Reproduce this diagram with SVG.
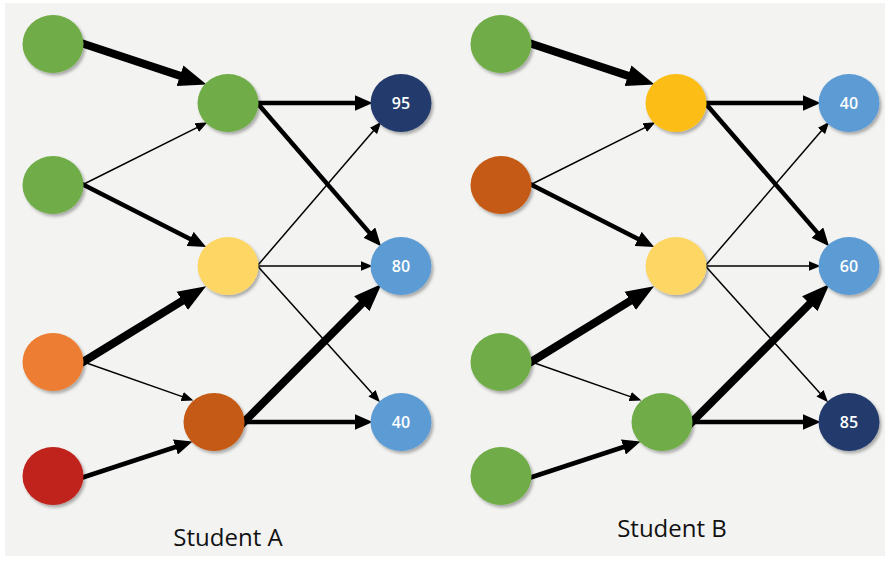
<svg xmlns="http://www.w3.org/2000/svg" width="885" height="561" viewBox="0 0 885 561">
<style>
.c{stroke:#000;fill:none;stroke-linecap:butt}
.thin{stroke-width:1.5;marker-end:url(#aThin)}
.med{stroke-width:4.5;marker-end:url(#aMed)}
.thick{stroke-width:8;marker-end:url(#aThick)}
.n{filter:url(#sh)}
.green{fill:#6fac46}
.yel{fill:#fdd664}
.gold{fill:#fbbd19}
.orange{fill:#ed7d31}
.dorange{fill:#c55a12}
.red{fill:#c0221a}
.navy{fill:#243b6c}
.blue{fill:#5b9bd4}
.lbl{font-family:"Open Sans","DejaVu Sans",sans-serif;font-size:16px;font-weight:600;fill:#fff;text-anchor:middle}
.title{font-family:"Open Sans","DejaVu Sans",sans-serif;font-size:24px;fill:#111;text-anchor:middle}
</style>
<defs>
<filter id="sh" x="-20%" y="-20%" width="150%" height="150%">
<feDropShadow dx="2" dy="2.5" stdDeviation="1.5" flood-color="#000" flood-opacity="0.3"/>
</filter>
<marker id="aThin" markerUnits="userSpaceOnUse" markerWidth="12" markerHeight="10" viewBox="0 0 10 8" refX="2" refY="4" orient="auto"><path d="M0,0 L10,4 L0,8 Z" fill="#000"/></marker>
<marker id="aMed" markerUnits="userSpaceOnUse" markerWidth="18" markerHeight="16" viewBox="0 0 16 14" refX="3" refY="7" orient="auto"><path d="M0,0 L16,7 L0,14 Z" fill="#000"/></marker>
<marker id="aThick" markerUnits="userSpaceOnUse" markerWidth="28" markerHeight="22" viewBox="0 0 26 20" refX="4" refY="10" orient="auto"><path d="M0,0 L26,10 L0,20 Z" fill="#000"/></marker>
</defs>
<rect width="885" height="561" fill="#fff"/>
<rect x="5" y="3" width="880" height="553" fill="#f3f3f2"/>
<g id="connectors">
<!-- Student A -->
<line class="c thick" x1="78" y1="42" x2="184.1" y2="77.1"/>
<line class="c thin" x1="78" y1="187" x2="198.9" y2="126.6"/>
<line class="c med" x1="78" y1="182" x2="193.1" y2="240.4"/>
<line class="c thick" x1="78" y1="365" x2="185.9" y2="298.6"/>
<line class="c thin" x1="78" y1="360" x2="184.4" y2="397.4"/>
<line class="c med" x1="78" y1="479" x2="178.6" y2="446"/>
<line class="c med" x1="252" y1="103" x2="358" y2="103"/>
<line class="c med" x1="252" y1="97" x2="371.5" y2="235.1"/>
<line class="c thin" x1="252" y1="272" x2="375" y2="129.1"/>
<line class="c thin" x1="252" y1="266" x2="363" y2="266"/>
<line class="c thin" x1="252" y1="260" x2="373.6" y2="395"/>
<line class="c thick" x1="239" y1="427" x2="364.8" y2="300.7"/>
<line class="c med" x1="239" y1="422" x2="358" y2="422"/>
<!-- Student B -->
<line class="c thick" x1="526" y1="42" x2="632.1" y2="77.1"/>
<line class="c thin" x1="526" y1="187" x2="646.9" y2="126.6"/>
<line class="c med" x1="526" y1="182" x2="641.1" y2="240.4"/>
<line class="c thick" x1="526" y1="365" x2="633.9" y2="298.6"/>
<line class="c thin" x1="526" y1="360" x2="632.4" y2="397.4"/>
<line class="c med" x1="526" y1="479" x2="626.6" y2="446"/>
<line class="c med" x1="700" y1="103" x2="806" y2="103"/>
<line class="c med" x1="700" y1="97" x2="819.5" y2="235.1"/>
<line class="c thin" x1="700" y1="272" x2="823" y2="129.1"/>
<line class="c thin" x1="700" y1="266" x2="811" y2="266"/>
<line class="c thin" x1="700" y1="260" x2="821.6" y2="395"/>
<line class="c thick" x1="687" y1="427" x2="812.8" y2="300.7"/>
<line class="c med" x1="687" y1="422" x2="806" y2="422"/>
</g>
<g id="studentA">
<g id="a-in1"><ellipse class="n green" cx="53" cy="44" rx="30.5" ry="29"/></g>
<g id="a-in2"><ellipse class="n green" cx="53" cy="185" rx="30.5" ry="29"/></g>
<g id="a-in3"><ellipse class="n orange" cx="53" cy="362" rx="30.5" ry="29"/></g>
<g id="a-in4"><ellipse class="n red" cx="53" cy="476" rx="30.5" ry="29"/></g>
<g id="a-h1"><ellipse class="n green" cx="228" cy="103" rx="30.5" ry="29"/></g>
<g id="a-h2"><ellipse class="n yel" cx="228" cy="266" rx="30.5" ry="29"/></g>
<g id="a-h3"><ellipse class="n dorange" cx="214" cy="422" rx="30.5" ry="29"/></g>
<g id="a-o1"><ellipse class="n navy" cx="401" cy="103" rx="30.5" ry="29"/><text class="lbl" x="401" y="109">95</text></g>
<g id="a-o2"><ellipse class="n blue" cx="401" cy="266" rx="30.5" ry="29"/><text class="lbl" x="401" y="272">80</text></g>
<g id="a-o3"><ellipse class="n blue" cx="401" cy="422" rx="30.5" ry="29"/><text class="lbl" x="401" y="428">40</text></g>
<g id="a-title"><text class="title" x="228" y="546">Student A</text></g>
</g>
<g id="studentB">
<g id="b-in1"><ellipse class="n green" cx="501" cy="44" rx="30.5" ry="29"/></g>
<g id="b-in2"><ellipse class="n dorange" cx="501" cy="185" rx="30.5" ry="29"/></g>
<g id="b-in3"><ellipse class="n green" cx="501" cy="362" rx="30.5" ry="29"/></g>
<g id="b-in4"><ellipse class="n green" cx="501" cy="476" rx="30.5" ry="29"/></g>
<g id="b-h1"><ellipse class="n gold" cx="676" cy="103" rx="30.5" ry="29"/></g>
<g id="b-h2"><ellipse class="n yel" cx="676" cy="266" rx="30.5" ry="29"/></g>
<g id="b-h3"><ellipse class="n green" cx="662" cy="422" rx="30.5" ry="29"/></g>
<g id="b-o1"><ellipse class="n blue" cx="849" cy="103" rx="30.5" ry="29"/><text class="lbl" x="849" y="109">40</text></g>
<g id="b-o2"><ellipse class="n blue" cx="849" cy="266" rx="30.5" ry="29"/><text class="lbl" x="849" y="272">60</text></g>
<g id="b-o3"><ellipse class="n navy" cx="849" cy="422" rx="30.5" ry="29"/><text class="lbl" x="849" y="428">85</text></g>
<g id="b-title"><text class="title" x="672" y="537">Student B</text></g>
</g>
</svg>
